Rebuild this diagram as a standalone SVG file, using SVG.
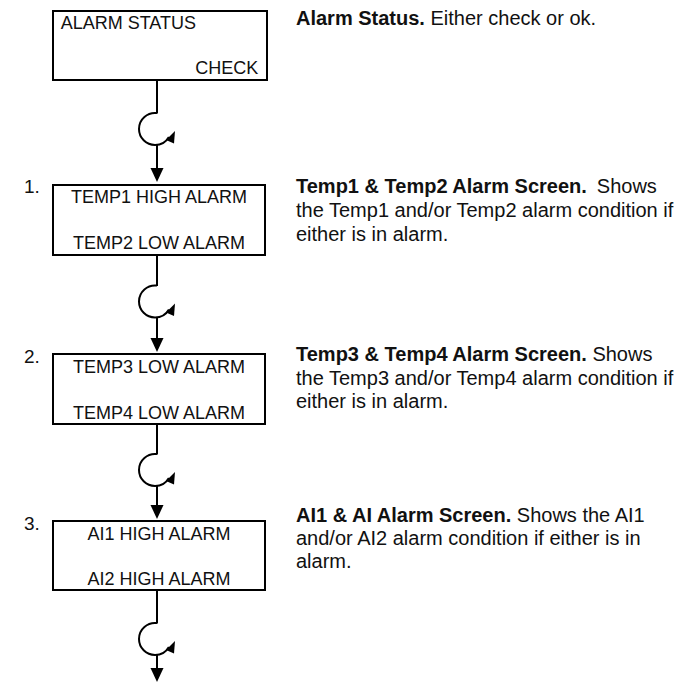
<svg xmlns="http://www.w3.org/2000/svg" xmlns:xlink="http://www.w3.org/1999/xlink" width="693" height="682" viewBox="0 0 693 682">
<style>
.box{fill:#fff;stroke:#000;stroke-width:2}
.wire{fill:none;stroke:#000;stroke-width:2}
.head{fill:#000;stroke:none}
.bt{font-family:"Liberation Sans",Arial,sans-serif;font-size:18px;fill:#111}
.num{font-family:"Liberation Sans",Arial,sans-serif;font-size:19px;fill:#111}
.desc{font-family:"Liberation Sans",Arial,sans-serif;font-size:20px;fill:#111}
.b{font-weight:bold}
</style>
<defs>
<g id="rot">
<path class="wire" d="M157 -15.9 A16 16 0 0 0 139 0 A16 16 0 0 0 155 16 A16 16 0 0 0 168.9 8"/>
<polygon class="head" points="175,2 166,11 174,14.5"/>
</g>
<polygon id="down" class="head" points="150.5,-14 163.5,-14 157,0"/>
</defs>
<rect width="693" height="682" fill="#fff"/>
<g id="connectors">
<path class="wire" d="M157 81 V113.5 M157 144.5 V170"/>
<use xlink:href="#rot" transform="translate(0 129)"/>
<use xlink:href="#down" transform="translate(0 182)"/>
<path class="wire" d="M157 256 V286 M157 317 V340"/>
<use xlink:href="#rot" transform="translate(0 301.5)"/>
<use xlink:href="#down" transform="translate(0 352)"/>
<path class="wire" d="M157 425 V454.5 M157 485.5 V507"/>
<use xlink:href="#rot" transform="translate(0 470)"/>
<use xlink:href="#down" transform="translate(0 519)"/>
<path class="wire" d="M157 591 V623.5 M157 654.5 V670"/>
<use xlink:href="#rot" transform="translate(0 639)"/>
<use xlink:href="#down" transform="translate(0 682)"/>
</g>
<g id="node-status">
<rect class="box" x="53" y="11" width="214" height="69"/>
<text class="bt" x="60.7" y="29">ALARM STATUS</text>
<text class="bt" x="258.3" y="74" text-anchor="end">CHECK</text>
</g>
<g id="node-temp12">
<text class="num" x="24" y="193">1.</text>
<rect class="box" x="53" y="185" width="212" height="70"/>
<text class="bt" x="159" y="203" text-anchor="middle">TEMP1 HIGH ALARM</text>
<text class="bt" x="159" y="248.5" text-anchor="middle">TEMP2 LOW ALARM</text>
</g>
<g id="node-temp34">
<text class="num" x="24" y="363">2.</text>
<rect class="box" x="53" y="354" width="212" height="70"/>
<text class="bt" x="159" y="373" text-anchor="middle">TEMP3 LOW ALARM</text>
<text class="bt" x="159" y="418.5" text-anchor="middle">TEMP4 LOW ALARM</text>
</g>
<g id="node-ai">
<text class="num" x="24" y="530">3.</text>
<rect class="box" x="53" y="521" width="212" height="69"/>
<text class="bt" x="159" y="539.5" text-anchor="middle">AI1 HIGH ALARM</text>
<text class="bt" x="159" y="584.5" text-anchor="middle">AI2 HIGH ALARM</text>
</g>
<g id="descriptions">
<text class="desc" x="296" y="25"><tspan class="b">Alarm Status.</tspan> Either check or ok.</text>
<text class="desc" x="296" y="193"><tspan class="b">Temp1 &amp; Temp2 Alarm Screen.</tspan><tspan dx="10">Shows</tspan></text>
<text class="desc" x="296" y="217">the Temp1 and/or Temp2 alarm condition if</text>
<text class="desc" x="296" y="241">either is in alarm.</text>
<text class="desc" x="296" y="361"><tspan class="b">Temp3 &amp; Temp4 Alarm Screen.</tspan> Shows</text>
<text class="desc" x="296" y="385">the Temp3 and/or Temp4 alarm condition if</text>
<text class="desc" x="296" y="408">either is in alarm.</text>
<text class="desc" x="296" y="522"><tspan class="b">AI1 &amp; AI Alarm Screen.</tspan> Shows the AI1</text>
<text class="desc" x="296" y="545">and/or AI2 alarm condition if either is in</text>
<text class="desc" x="296" y="568">alarm.</text>
</g>
</svg>
